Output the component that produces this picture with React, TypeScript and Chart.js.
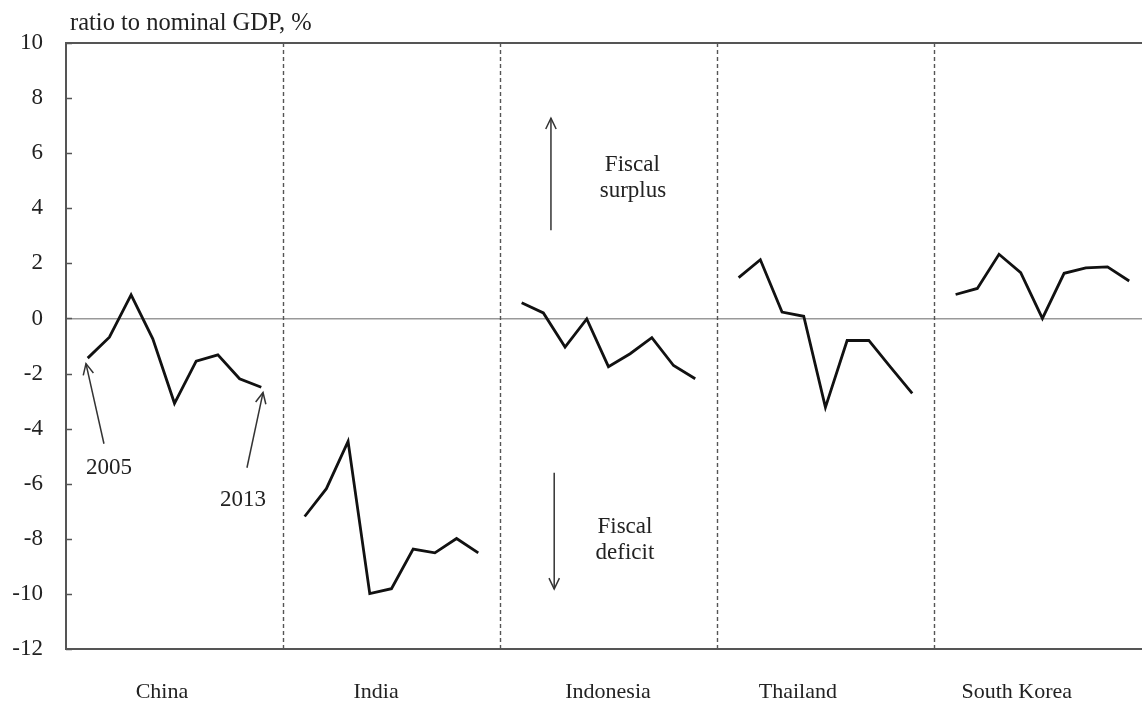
import React, { useEffect, useRef } from "react";
import { Chart, registerables } from "chart.js";

Chart.register(...registerables);

const years = ["2005", "2006", "2007", "2008", "2009", "2010", "2011", "2012", "2013"];
const categories = ["China", "India", "Indonesia", "Thailand", "South Korea"];
const china = [-1.44, -0.68, 0.86, -0.74, -3.08, -1.55, -1.32, -2.19, -2.5];
const india = [-7.19, -6.18, -4.46, -9.99, -9.81, -8.37, -8.51, -7.99, -8.51];
const indonesia = [0.57, 0.2, -1.04, -0.02, -1.75, -1.28, -0.7, -1.71, -2.19];
const thailand = [1.48, 2.13, 0.23, 0.08, -3.23, -0.8, -0.8, -1.77, -2.72];
const southKorea = [0.87, 1.09, 2.33, 1.66, 0.0, 1.64, 1.84, 1.87, 1.36];
const yTicks = [-12, -10, -8, -6, -4, -2, 0, 2, 4, 6, 8, 10];
const yAxisTitle = "ratio to nominal GDP, %";
const surplusText = ["Fiscal", "surplus"];
const deficitText = ["Fiscal", "deficit"];

const seriesList = [china, india, indonesia, thailand, southKorea];
const SLOT = years.length + 1; // 10 slots per country panel
const labelAt = [4.42, 14.29, 24.98, 33.73, 43.82];

const FONT = "'Liberation Serif', 'Times New Roman', serif";
const TEXT = "#222";

function arrow(ctx: CanvasRenderingContext2D, x1: number, y1: number, x2: number, y2: number) {
  ctx.beginPath();
  ctx.moveTo(x1, y1);
  ctx.lineTo(x2, y2);
  ctx.stroke();
  const a = Math.atan2(y2 - y1, x2 - x1);
  const L = 12;
  const s = Math.PI / 7;
  ctx.beginPath();
  ctx.moveTo(x2 - L * Math.cos(a - s), y2 - L * Math.sin(a - s));
  ctx.lineTo(x2, y2);
  ctx.lineTo(x2 - L * Math.cos(a + s), y2 - L * Math.sin(a + s));
  ctx.stroke();
}

const decor = {
  id: "decor",
  beforeDatasetsDraw(chart: any) {
    const { ctx, chartArea, scales } = chart;
    const x = scales.x;
    const y = scales.y;
    ctx.save();
    ctx.strokeStyle = "#555";
    ctx.lineWidth = 1.4;
    ctx.setLineDash([4, 3]);
    for (let k = 1; k < categories.length; k++) {
      const px = Math.round(x.getPixelForValue(k * SLOT)) + 0.5;
      ctx.beginPath();
      ctx.moveTo(px, chartArea.top);
      ctx.lineTo(px, chartArea.bottom);
      ctx.stroke();
    }
    ctx.setLineDash([]);
    ctx.strokeStyle = "#555";
    ctx.lineWidth = 2;
    ctx.beginPath();
    ctx.moveTo(chartArea.left, chartArea.top);
    ctx.lineTo(chartArea.right, chartArea.top);
    ctx.stroke();
    ctx.lineWidth = 1.5;
    for (const v of yTicks) {
      const py = Math.round(y.getPixelForValue(v)) + 0.5;
      ctx.beginPath();
      ctx.moveTo(chartArea.left, py);
      ctx.lineTo(chartArea.left + 6, py);
      ctx.stroke();
    }
    ctx.restore();
  },
  afterDraw(chart: any) {
    const { ctx, chartArea, scales } = chart;
    const x = scales.x;
    const y = scales.y;
    const X = (v: number) => x.getPixelForValue(v);
    const Y = (v: number) => y.getPixelForValue(v);
    ctx.save();
    ctx.fillStyle = TEXT;
    ctx.textBaseline = "alphabetic";
    ctx.textAlign = "left";
    ctx.font = `24.5px ${FONT}`;
    ctx.fillText(yAxisTitle, chartArea.left + 4, 30);

    ctx.strokeStyle = "#333";
    ctx.lineWidth = 1.5;
    arrow(ctx, X(22.35), Y(3.2), X(22.35), Y(7.27));
    arrow(ctx, X(22.5), Y(-5.6), X(22.5), Y(-9.82));
    arrow(ctx, X(1.75), Y(-4.55), X(0.92), Y(-1.64));
    arrow(ctx, X(8.34), Y(-5.42), X(9.08), Y(-2.69));

    ctx.font = `23px ${FONT}`;
    ctx.textAlign = "center";
    ctx.fillText(surplusText[0], X(26.1), Y(5.35));
    ctx.fillText(surplusText[1], X(26.13), Y(4.4));
    ctx.fillText(deficitText[0], X(25.76), Y(-7.78));
    ctx.fillText(deficitText[1], X(25.76), Y(-8.73));
    ctx.fillText(years[0], X(1.98), Y(-5.64));
    ctx.fillText(years[years.length - 1], X(8.16), Y(-6.8));
    ctx.restore();
  },
};

export default function App() {
  const ref = useRef<HTMLCanvasElement>(null);
  useEffect(() => {
    if (!ref.current) return;
    const datasets = seriesList.map((vals, i) => ({
      label: categories[i],
      data: vals.map((v, j) => ({ x: i * SLOT + j + 1, y: v })),
      borderColor: "#111",
      borderWidth: 2.8,
      pointRadius: 0,
      fill: false,
      tension: 0,
    }));
    const chart = new Chart(ref.current, {
      type: "line",
      data: { datasets },
      plugins: [decor],
      options: {
        animation: false,
        responsive: false,
        maintainAspectRatio: false,
        layout: { padding: { left: 0, right: 0, top: 43, bottom: 0 } },
        plugins: { legend: { display: false }, tooltip: { enabled: false }, title: { display: false } },
        scales: {
          x: {
            type: "linear",
            min: 0,
            max: 49.59,
            grid: { display: false, drawTicks: false },
            border: { display: true, color: "#555", width: 2 },
            afterBuildTicks: (s: any) => {
              s.ticks = labelAt.map((v) => ({ value: v }));
            },
            afterFit: (s: any) => {
              s.height = 53;
            },
            ticks: {
              autoSkip: false,
              maxRotation: 0,
              padding: 30,
              color: TEXT,
              font: { family: FONT, size: 22 },
              callback: (_v: any, i: number) => categories[i],
            },
          },
          y: {
            min: -12,
            max: 10,
            afterBuildTicks: (s: any) => {
              s.ticks = yTicks.map((v) => ({ value: v }));
            },
            afterFit: (s: any) => {
              s.width = 66;
            },
            grid: {
              drawTicks: false,
              color: (c: any) => (c.tick && c.tick.value === 0 ? "#999" : "rgba(0,0,0,0)"),
              lineWidth: 1.5,
            },
            border: { display: true, color: "#555", width: 2 },
            ticks: {
              padding: 23,
              color: TEXT,
              font: { family: FONT, size: 23 },
              callback: (v: any) => String(v),
            },
          },
        },
      },
    });
    return () => chart.destroy();
  }, []);
  return (
    <div style={{ position: "absolute", left: 0, top: 0, width: 1142, height: 702, background: "#fff" }}>
      <canvas ref={ref} width={1142} height={702} />
    </div>
  );
}
